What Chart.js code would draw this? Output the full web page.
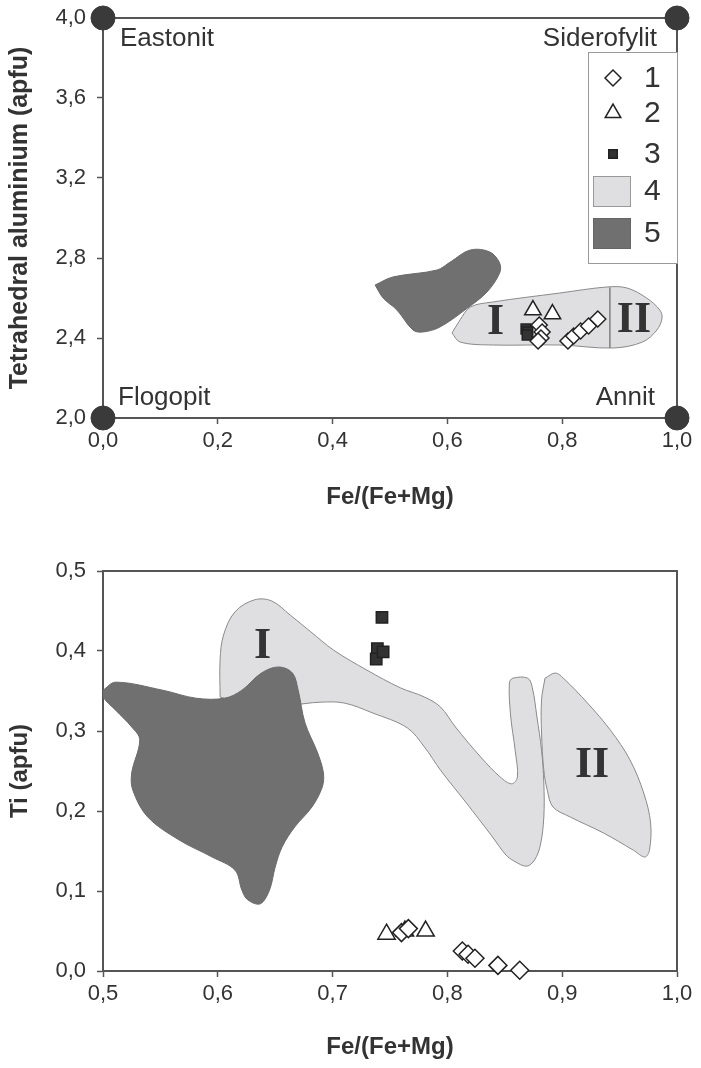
<!DOCTYPE html>
<html lang="cs">
<head>
<meta charset="UTF-8">
<title>Biotit – klasifikace</title>
<script src="https://cdn.jsdelivr.net/npm/chart.js"></script>
<style>
  body { margin: 0; background: #fff; }
  #wrap { position: relative; width: 701px; height: 1068px; }
  canvas { position: absolute; left: 0; }
  #topChart { top: 0; }
  #botChart { top: 530px; }
</style>
</head>
<body>
<div id="wrap">
  <canvas id="topChart" width="701" height="530"></canvas>
  <canvas id="botChart" width="701" height="538"></canvas>
</div>
<script>
// ---- horni diagram: Fe/(Fe+Mg) vs AlIV ----
const topDiamondX = [0.760, 0.765, 0.763, 0.758, 0.810, 0.820, 0.832, 0.846, 0.862];
const topDiamondY = [2.465, 2.43, 2.40, 2.385, 2.385, 2.41, 2.435, 2.46, 2.495];
const topTriangleX = [0.749, 0.783];
const topTriangleY = [2.54, 2.52];
const topSquareX = [0.737, 0.740, 0.739];
const topSquareY = [2.445, 2.43, 2.415];
const cornerX = [0, 0, 1, 1];
const cornerY = [2, 4, 2, 4];

const topField5X = [0.474, 0.505, 0.582, 0.605, 0.640, 0.674, 0.691, 0.691, 0.669, 0.635, 0.587, 0.557, 0.540, 0.512, 0.488, 0.474];
const topField5Y = [2.665, 2.705, 2.74, 2.78, 2.84, 2.83, 2.775, 2.725, 2.63, 2.55, 2.455, 2.43, 2.44, 2.54, 2.60, 2.665];
const topField4X = [0.608, 0.622, 0.640, 0.679, 0.796, 0.878, 0.913, 0.947, 0.970, 0.974, 0.965, 0.940, 0.889, 0.796, 0.679, 0.622, 0.608];
const topField4Y = [2.425, 2.49, 2.555, 2.58, 2.625, 2.655, 2.65, 2.60, 2.54, 2.50, 2.44, 2.38, 2.35, 2.365, 2.365, 2.38, 2.425];
const topDividerX = [0.883, 0.883];
const topDividerY = [2.652, 2.35];

const topRomanText = ['I', 'II'];
const topRomanX = [0.684, 0.925];
const topRomanY = [2.475, 2.485];

const cornerNames = ['Eastonit', 'Siderofylit', 'Flogopit', 'Annit'];
const legendLabels = ['1', '2', '3', '4', '5'];

// ---- dolni diagram: Fe/(Fe+Mg) vs Ti ----
const botDiamondX = [0.760, 0.766, 0.813, 0.818, 0.824, 0.844, 0.863];
const botDiamondY = [0.048, 0.053, 0.025, 0.021, 0.016, 0.007, 0.001];
const botTriangleX = [0.747, 0.763, 0.781];
const botTriangleY = [0.046, 0.05, 0.05];
const botSquareX = [0.743, 0.739, 0.738, 0.744];
const botSquareY = [0.442, 0.403, 0.390, 0.399];

const botField5X = [0.500, 0.511, 0.552, 0.581, 0.606, 0.621, 0.638, 0.653, 0.665, 0.670, 0.676, 0.687, 0.692, 0.691, 0.682, 0.667, 0.656, 0.650, 0.645, 0.637, 0.626, 0.621, 0.615, 0.595, 0.566, 0.539, 0.526, 0.525, 0.532, 0.525, 0.511, 0.500, 0.500];
const botField5Y = [0.351, 0.361, 0.351, 0.341, 0.341, 0.351, 0.3725, 0.380, 0.3725, 0.351, 0.31, 0.2725, 0.2475, 0.23, 0.205, 0.18, 0.155, 0.13, 0.101, 0.084, 0.089, 0.101, 0.126, 0.1425, 0.164, 0.1925, 0.226, 0.2475, 0.289, 0.305, 0.326, 0.3425, 0.351];
const botField4X = [0.602, 0.602, 0.605, 0.615, 0.632, 0.647, 0.663, 0.681, 0.701, 0.730, 0.759, 0.780, 0.794, 0.807, 0.829, 0.846, 0.856, 0.861, 0.859, 0.855, 0.854, 0.857, 0.870, 0.874, 0.878, 0.882, 0.884, 0.884, 0.881, 0.876, 0.869, 0.858, 0.851, 0.838, 0.816, 0.794, 0.780, 0.765, 0.735, 0.710, 0.689, 0.663, 0.628, 0.602];
const botField4Y = [0.3425, 0.389, 0.42, 0.449, 0.464, 0.4625, 0.445, 0.424, 0.401, 0.376, 0.354, 0.3425, 0.33, 0.305, 0.2675, 0.2425, 0.234, 0.2425, 0.276, 0.32, 0.36, 0.366, 0.366, 0.354, 0.3175, 0.276, 0.235, 0.1925, 0.1575, 0.139, 0.131, 0.1375, 0.145, 0.17, 0.211, 0.251, 0.28, 0.304, 0.3225, 0.335, 0.336, 0.3325, 0.3325, 0.3425];
const botField4bX = [0.885, 0.894, 0.901, 0.922, 0.942, 0.959, 0.971, 0.977, 0.976, 0.972, 0.962, 0.936, 0.907, 0.892, 0.887, 0.884, 0.882, 0.882, 0.885];
const botField4bY = [0.366, 0.3725, 0.366, 0.335, 0.301, 0.264, 0.2225, 0.185, 0.151, 0.1425, 0.151, 0.1725, 0.1925, 0.205, 0.226, 0.251, 0.2975, 0.339, 0.366];

const botRomanText = ['I', 'II'];
const botRomanX = [0.639, 0.926];
const botRomanY = [0.405, 0.257];

const INK = '#333';
const AXIS = '#555';
const DARK = '#707070';
const LIGHT = '#dfdfe1';
const SANS = '"Liberation Sans", Arial, sans-serif';

function pts(xs, ys) { return xs.map((x, i) => ({ x: x, y: ys[i] })); }
function comma(v) { return v.toFixed(1).replace('.', ','); }

function markers(xs, ys, style, r, fill) {
  return { data: pts(xs, ys), pointStyle: style, pointRadius: r, pointHoverRadius: r,
           backgroundColor: fill, borderColor: '#222', borderWidth: 1.5, clip: false };
}
function field(xs, ys, fill, edge) {
  return { type: 'line', data: pts(xs, ys), fill: 'shape', backgroundColor: fill,
           borderColor: edge, borderWidth: 1, tension: 0.35, pointRadius: 0 };
}

// ramecek, rimske cislice, popisky rohu
const notes = {
  id: 'notes',
  beforeDatasetsDraw(chart) {
    const a = chart.chartArea, c = chart.ctx;
    c.save();
    c.strokeStyle = AXIS; c.lineWidth = 2;
    c.beginPath(); c.moveTo(a.left, a.top); c.lineTo(a.right, a.top); c.lineTo(a.right, a.bottom); c.stroke();
    c.restore();
  },
  afterDatasetsDraw(chart, args, opts) {
    const xs = chart.scales.x, ys = chart.scales.y, c = chart.ctx, a = chart.chartArea;
    c.save();
    c.fillStyle = INK;
    c.font = 'bold 44px "Liberation Serif", "Times New Roman", serif';
    c.textAlign = 'center'; c.textBaseline = 'middle';
    opts.romanText.forEach((t, i) => c.fillText(t, xs.getPixelForValue(opts.romanX[i]), ys.getPixelForValue(opts.romanY[i])));
    if (opts.corners) {
      c.font = '26px ' + SANS;
      c.textAlign = 'left';
      c.fillText(cornerNames[0], a.left + 17, a.top + 21);
      c.fillText(cornerNames[2], a.left + 15, a.bottom - 20);
      c.textAlign = 'right';
      c.fillText(cornerNames[1], a.right - 20, a.top + 21);
      c.fillText(cornerNames[3], a.right - 22, a.bottom - 20);
    }
    c.restore();
  }
};

// legenda v ramecku uvnitr horniho grafu
const boxLegend = {
  id: 'boxLegend',
  afterDraw(chart, args, opts) {
    if (!opts.show) return;
    const a = chart.chartArea, c = chart.ctx;
    const w = 89, h = 211, x0 = a.right - w, y0 = a.top + 34;
    c.save();
    c.fillStyle = '#fff'; c.fillRect(x0, y0, w, h);
    c.strokeStyle = '#999'; c.lineWidth = 1; c.strokeRect(x0 + 0.5, y0 + 0.5, w, h);
    const mx = x0 + 25, rows = [26, 61, 102, 139, 181];
    const dp = Chart.helpers.drawPoint;
    c.strokeStyle = '#222'; c.lineWidth = 1.5;
    c.fillStyle = '#fff';
    dp(c, { pointStyle: 'rectRot', radius: 8, borderWidth: 1.5, rotation: 0 }, mx, y0 + rows[0]);
    c.fillStyle = '#fff';
    dp(c, { pointStyle: 'triangle', radius: 9, borderWidth: 1.5, rotation: 0 }, mx, y0 + rows[1]);
    c.fillStyle = INK;
    dp(c, { pointStyle: 'rect', radius: 6, borderWidth: 1, rotation: 0 }, mx, y0 + rows[2]);
    c.lineWidth = 1;
    c.fillStyle = LIGHT; c.strokeStyle = '#999';
    c.fillRect(x0 + 5, y0 + rows[3] - 15, 37, 30); c.strokeRect(x0 + 5.5, y0 + rows[3] - 14.5, 37, 30);
    c.fillStyle = DARK; c.strokeStyle = '#666';
    c.fillRect(x0 + 5, y0 + rows[4] - 15, 37, 30); c.strokeRect(x0 + 5.5, y0 + rows[4] - 14.5, 37, 30);
    c.fillStyle = INK; c.font = '30px ' + SANS;
    c.textAlign = 'left'; c.textBaseline = 'middle';
    legendLabels.forEach((t, i) => c.fillText(t, x0 + 56, y0 + rows[i] + 1));
    c.restore();
  }
};

function axes(xmin, xmax, xstep, ymin, ymax, ystep, yTitle, yTitleSize, xH, xTitlePad) {
  const tickFont = { family: SANS, size: 22 };
  return {
    x: {
      type: 'linear', min: xmin, max: xmax,
      ticks: { stepSize: xstep, color: INK, font: tickFont, padding: 4, maxRotation: 0, autoSkip: false, callback: comma },
      grid: { drawOnChartArea: false, drawTicks: true, tickLength: 6, tickColor: AXIS, tickWidth: 1.5 },
      border: { display: true, color: AXIS, width: 2 },
      title: { display: true, text: 'Fe/(Fe+Mg)', color: INK, font: { family: SANS, size: 24, weight: 'bold' }, padding: { top: 0, bottom: xTitlePad } },
      afterFit(s) { s.height = xH; s.paddingLeft = 0; s.paddingRight = 0; }
    },
    y: {
      type: 'linear', min: ymin, max: ymax,
      ticks: { stepSize: ystep, color: INK, font: tickFont, padding: 11, callback: comma },
      grid: { drawOnChartArea: false, drawTicks: true, tickLength: 6, tickColor: AXIS, tickWidth: 1.5 },
      border: { display: true, color: AXIS, width: 2 },
      title: { display: true, text: yTitle, color: INK, font: { family: SANS, size: yTitleSize, weight: 'bold' }, padding: { top: 20 - yTitleSize * 0.6, bottom: 0 } },
      afterFit(s) { s.width = 103; s.paddingTop = 0; s.paddingBottom = 0; }
    }
  };
}

const common = {
  responsive: false,
  animation: false,
  events: [],
};

new Chart(document.getElementById('topChart'), {
  type: 'scatter',
  data: {
    datasets: [
      { data: pts(cornerX, cornerY), pointRadius: 12, backgroundColor: '#3a3a3a', borderColor: '#3a3a3a', clip: false },
      markers(topDiamondX, topDiamondY, 'rectRot', 8, '#fff'),
      markers(topTriangleX, topTriangleY, 'triangle', 9.5, '#fff'),
      markers(topSquareX, topSquareY, 'rect', 7, INK),
      { type: 'line', data: pts(topDividerX, topDividerY), borderColor: '#888', borderWidth: 1, pointRadius: 0, fill: false },
      field(topField5X, topField5Y, DARK, '#6a6a6a'),
      field(topField4X, topField4Y, LIGHT, '#8a8a8a')
    ]
  },
  options: Object.assign({}, common, {
    layout: { autoPadding: false, padding: { top: 18, right: 24, left: 0, bottom: 0 } },
    scales: axes(0, 1, 0.2, 2, 4, 0.4, 'Tetrahedral aluminium (apfu)', 25, 112, 18.6),
    plugins: {
      legend: { display: false }, tooltip: { enabled: false },
      notes: { romanText: topRomanText, romanX: topRomanX, romanY: topRomanY, corners: true },
      boxLegend: { show: true }
    }
  }),
  plugins: [notes, boxLegend]
});

new Chart(document.getElementById('botChart'), {
  type: 'scatter',
  data: {
    datasets: [
      markers(botDiamondX, botDiamondY, 'rectRot', 9, '#fff'),
      markers(botTriangleX, botTriangleY, 'triangle', 10, '#fff'),
      markers(botSquareX, botSquareY, 'rect', 8, INK),
      field(botField5X, botField5Y, DARK, '#6a6a6a'),
      field(botField4bX, botField4bY, LIGHT, '#8a8a8a'),
      field(botField4X, botField4Y, LIGHT, '#8a8a8a')
    ]
  },
  options: Object.assign({}, common, {
    layout: { autoPadding: false, padding: { top: 41, right: 24, left: 0, bottom: 0 } },
    scales: axes(0.5, 1, 0.1, 0, 0.5, 0.1, 'Ti (apfu)', 24, 97, 6.6),
    plugins: {
      legend: { display: false }, tooltip: { enabled: false },
      notes: { romanText: botRomanText, romanX: botRomanX, romanY: botRomanY, corners: false },
      boxLegend: { show: false }
    }
  }),
  plugins: [notes, boxLegend]
});
</script>
</body>
</html>
